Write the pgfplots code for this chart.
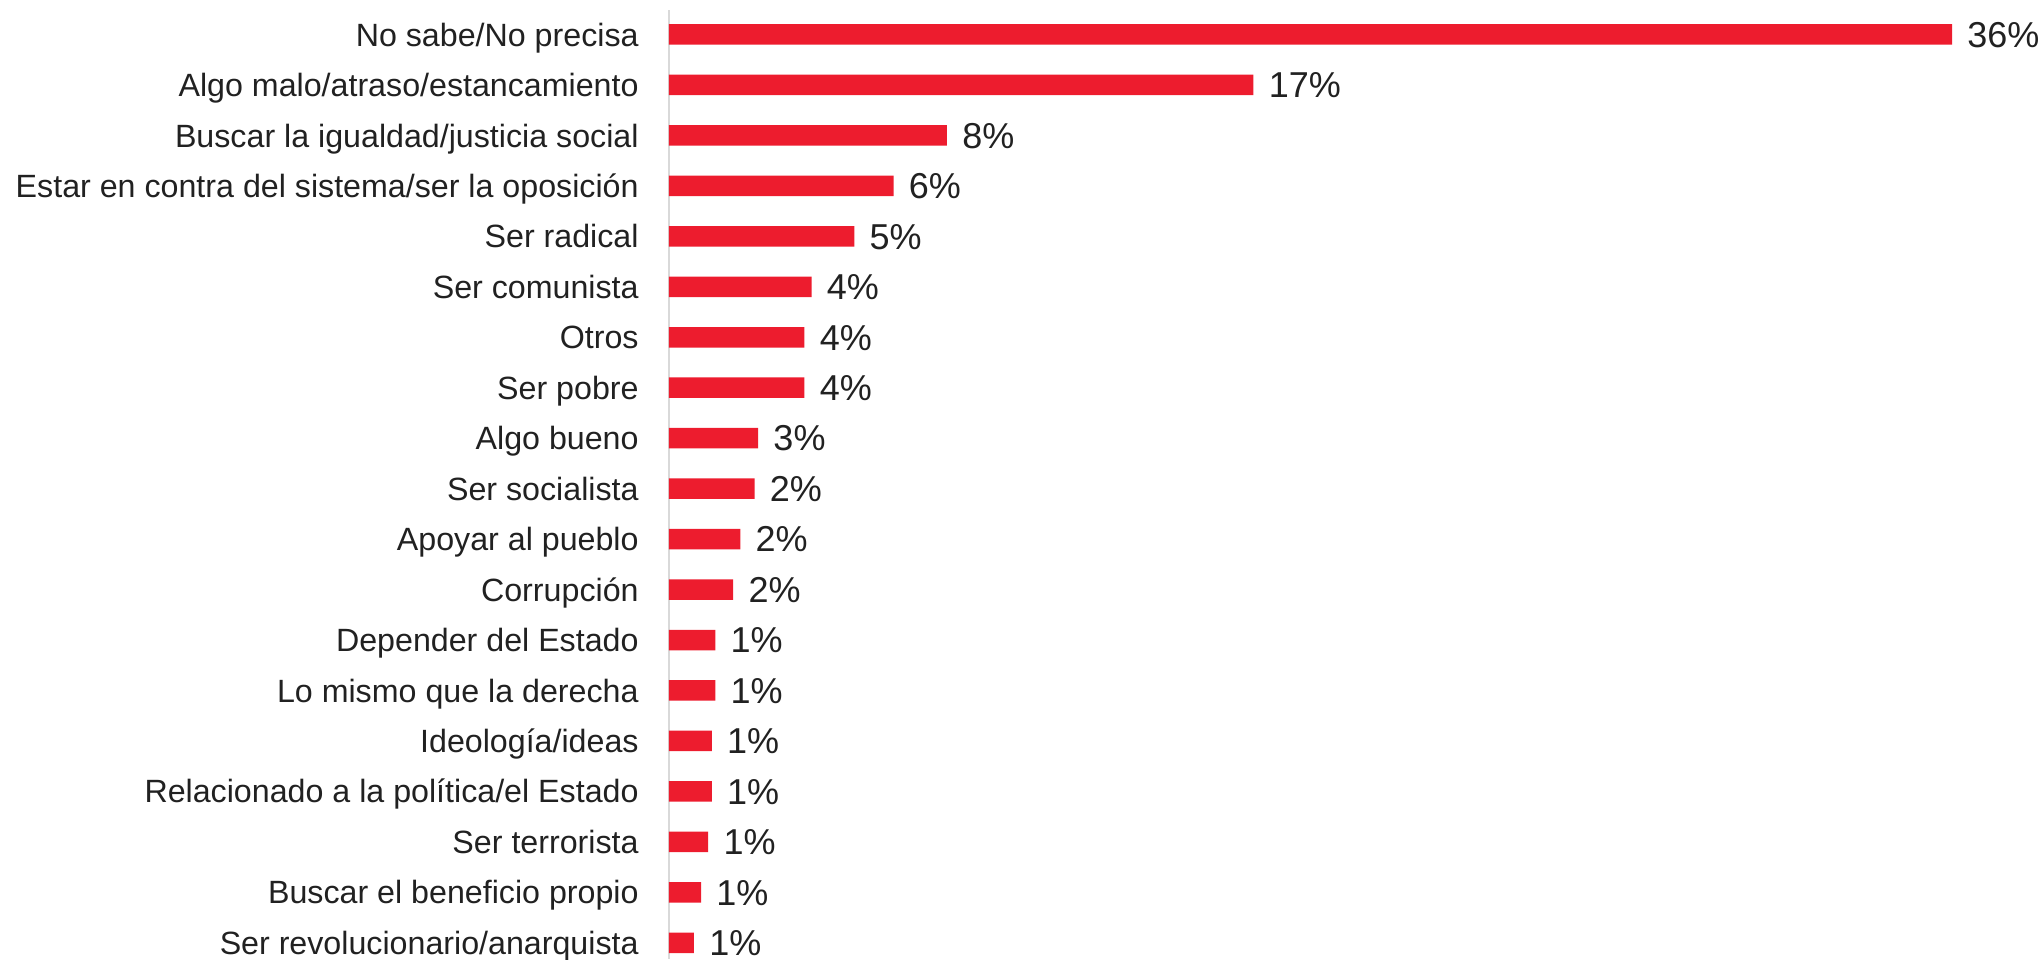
\documentclass[border=0pt]{standalone}
\usepackage{pgfplots}
\pgfplotsset{compat=1.18}
\usepackage{pgfplotstable}
\usepackage{fontspec}
\setmainfont{Liberation Sans}

\definecolor{barred}{RGB}{237,28,46}
\definecolor{txt}{RGB}{33,33,33}
\definecolor{axgray}{RGB}{217,217,217}

% i = row, v = bar length, lab = printed value
\pgfplotstableread[col sep=comma]{
i,v,lab
0,36.0,36
1,16.4,17
2,7.8,8
3,6.3,6
4,5.2,5
5,4.0,4
6,3.8,4
7,3.8,4
8,2.5,3
9,2.4,2
10,2.0,2
11,1.8,2
12,1.3,1
13,1.3,1
14,1.2,1
15,1.2,1
16,1.1,1
17,0.9,1
18,0.7,1
}\datatable

\begin{document}
\begin{tikzpicture}
\begin{axis}[
    name=ax,
    scale only axis,
    width=641.5pt, height=474.5pt,
    xbar, bar width=10.25pt,
    xmin=0, xmax=36,
    ymin=-0.4855, ymax=18.322,
    y dir=reverse,
    axis x line=none,
    axis y line*=left,
    axis line style={draw=axgray, line width=1pt},
    xtick=\empty,
    ytick={0,...,18},
    yticklabels={No sabe/No precisa, Algo malo/atraso/estancamiento, Buscar la igualdad/justicia social, Estar en contra del sistema/ser la oposición, Ser radical, Ser comunista, Otros, Ser pobre, Algo bueno, Ser socialista, Apoyar al pueblo, Corrupción, Depender del Estado, Lo mismo que la derecha, Ideología/ideas, Relacionado a la política/el Estado, Ser terrorista, Buscar el beneficio propio, Ser revolucionario/anarquista},
    major tick length=0pt,
    y tick label style={font=\fontsize{16.1}{19}\selectfont, text=txt, anchor=base east, inner sep=0pt, xshift=-15pt, yshift=-5.8pt},
    point meta=explicit symbolic,
    nodes near coords={\pgfplotspointmeta\%},
    nodes near coords style={font=\fontsize{18}{21}\selectfont, text=txt, anchor=base west, inner sep=0pt, xshift=7.5pt, yshift=-6.4pt},
    clip=false,
]
\addplot[fill=barred, draw=none] table[x=v, y=i, meta=lab] {\datatable};
\end{axis}
\pgfresetboundingbox
\path[use as bounding box] ([xshift=-334.5pt]ax.south west) rectangle ([xshift=45pt,yshift=5pt]ax.north east);
\end{tikzpicture}
\end{document}
